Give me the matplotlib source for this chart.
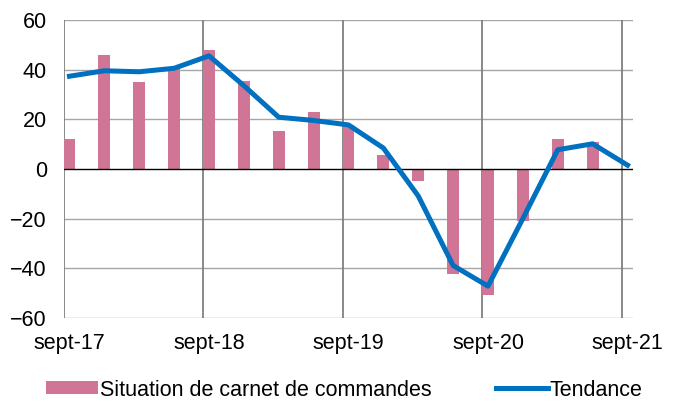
import matplotlib.pyplot as plt
import numpy as np

plt.rcParams["font.family"] = ["Liberation Sans", "DejaVu Sans"]

# quarterly data, sept-17 .. sept-21
quarters = ["sept-17", "déc-17", "mars-18", "juin-18", "sept-18", "déc-18", "mars-19", "juin-19",
            "sept-19", "déc-19", "mars-20", "juin-20", "sept-20", "déc-20", "mars-21", "juin-21", "sept-21"]
carnet = [12, 46, 35, 40.5, 48, 35.3, 15.3, 22.8, 17.7, 5.7, -4.7, -42.3, -50.7, -20.9, 12, 10.7, np.nan]
tendance = [37.3, 39.5, 39.1, 40.5, 45.5, 33.5, 20.8, 19.5, 17.7, 8.4, -10.9, -38.9, -47.2, -20, 7.7, 10.1, 1.5]
year_labels = ["sept-17", "sept-18", "sept-19", "sept-20", "sept-21"]

pink = "#D17596"
blue = "#0070C0"
bar_w = 0.34

fig = plt.figure(figsize=(6.76, 4.05), dpi=100)
ax = fig.add_axes([0.094, 0.215, 0.842, 0.736])

x = np.arange(len(quarters))
bars = ax.bar(x, carnet, width=bar_w, align="edge", color=pink, zorder=2)
line, = ax.plot(x + bar_w / 2, tendance, color=blue, lw=3.6, zorder=3)

ax.set_xlim(0, 16.32)
ax.set_ylim(-60, 60)
ax.set_yticks(np.arange(-60, 61, 20))

# horizontal grid
for yv in np.arange(-60, 61, 20):
    if yv != 0:
        ax.axhline(yv, color="#A6A6A6", lw=1.0, zorder=1)
ax.axhline(0, color="black", lw=1.0, zorder=2.5)
# yearly vertical lines
year_pos = x[::4]
for xv in year_pos:
    ax.axvline(xv, color="#808080", lw=1.3, zorder=1)

ax.set_xticks(year_pos + bar_w / 2)
ax.set_xticklabels(year_labels)

for s in ax.spines.values():
    s.set_visible(False)
ax.tick_params(length=0, labelsize=15.5, colors="black")
ax.tick_params(axis="y", pad=12)
ax.tick_params(axis="x", pad=11)

ax.legend([bars, line], ["Situation de carnet de commandes", "Tendance"],
          loc="center left", bbox_to_anchor=(46 / 676, 1 - 390 / 405),
          bbox_transform=fig.transFigure, ncol=2, frameon=False,
          fontsize=15.5, handlelength=2.4, handleheight=0.55, columnspacing=3.0,
          handletextpad=0.1, borderaxespad=0, borderpad=0)

fig.savefig("out.png", dpi=100)
